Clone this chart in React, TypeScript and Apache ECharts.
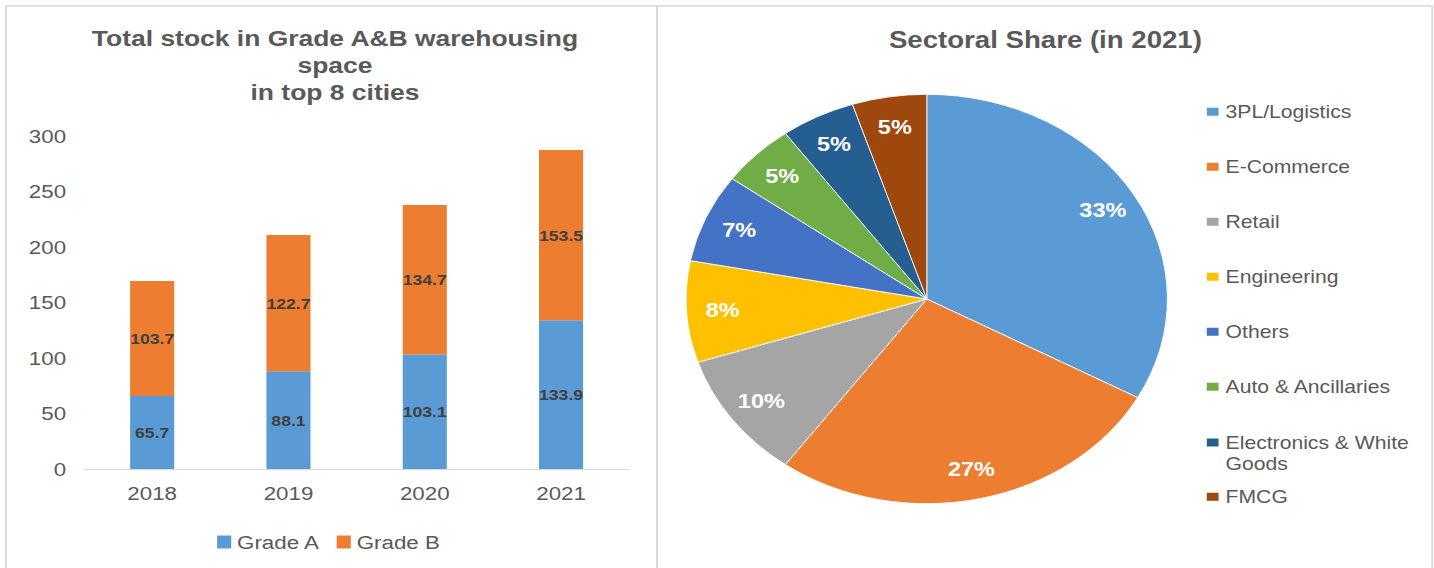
import React, { useEffect, useRef } from "react";
import * as echarts from "echarts";

// ---- data ----
const years = ["2018", "2019", "2020", "2021"];
const gradeA = [65.7, 88.1, 103.1, 133.9];
const gradeB = [103.7, 122.7, 134.7, 153.5];

const sectors = [
  "3PL/Logistics",
  "E-Commerce",
  "Retail",
  "Engineering",
  "Others",
  "Auto & Ancillaries",
  "Electronics & White Goods",
  "FMCG",
];
const shares = [33, 27, 10, 8, 7, 5, 5, 5];
const sectorColors = ["#5B9BD5", "#ED7D31", "#A5A5A5", "#FFC000", "#4472C4", "#70AD47", "#255E91", "#9E480E"];

// ---- layout (chart is drawn in a 1220px wide canvas, then stretched horizontally like the source image) ----
const W = 1220;
const H = 568;
const SX = 1434 / W;
const FONT = "'Liberation Sans', Arial, sans-serif";
const TXT = "#595959";
const PIE_CX = 788.5;
const PIE_CY = 299;
const PIE_R = 204.7;
const LABEL_RATIO = 0.85;

export default function App() {
  const ref = useRef<HTMLDivElement>(null);

  useEffect(() => {
    if (!ref.current) return;
    const chart = echarts.init(ref.current, null, { renderer: "svg", width: W, height: H });
    const k = (LABEL_RATIO * PIE_R) / (PIE_R / 2 + 3);

    const option: any = {
      animation: false,
      textStyle: { fontFamily: FONT },
      graphic: [
        {
          type: "rect",
          shape: { x: 5.1, y: 6, width: 553.9, height: 620 },
          style: { fill: "none", stroke: "#d9d9d9", lineWidth: 1.5 },
          silent: true,
        },
        {
          type: "rect",
          shape: { x: 559, y: 6, width: 659.5, height: 620 },
          style: { fill: "none", stroke: "#d9d9d9", lineWidth: 1.5 },
          silent: true,
        },
      ],
      title: [
        {
          text: "Total stock in Grade A&B warehousing\nspace\nin top 8 cities",
          left: 285,
          top: 24.5,
          padding: 0,
          textAlign: "center",
          textStyle: { fontFamily: FONT, fontSize: 22.5, fontWeight: "bold", color: TXT, lineHeight: 27 },
        },
        {
          text: "Sectoral Share (in 2021)",
          left: 889.4,
          top: 28,
          padding: 0,
          textAlign: "center",
          textStyle: { fontFamily: FONT, fontSize: 23.5, fontWeight: "bold", color: TXT, lineHeight: 24 },
        },
      ],
      legend: [
        {
          data: ["Grade A", "Grade B"],
          orient: "horizontal",
          left: 184.7,
          top: 532,
          padding: 0,
          itemWidth: 12,
          itemHeight: 13,
          itemGap: 14,
          icon: "rect",
          selectedMode: false,
          textStyle: { fontFamily: FONT, fontSize: 19, color: TXT, lineHeight: 20 },
        },
        {
          data: sectors.slice(0, 6),
          orient: "vertical",
          left: 1024.7,
          top: 101.7,
          padding: 0,
          itemWidth: 12,
          itemHeight: 10,
          itemGap: 35,
          icon: "rect",
          selectedMode: false,
          textStyle: { fontFamily: FONT, fontSize: 18, color: TXT, lineHeight: 20 },
        },
        {
          data: [sectors[6]],
          orient: "vertical",
          left: 1024.7,
          top: 411.6,
          padding: 0,
          itemWidth: 12,
          itemHeight: 10,
          icon: "rect",
          selectedMode: false,
          // leading empty line keeps the marker level with the first text line
          formatter: (name: string) => "\n" + name.replace("White ", "White\n"),
          textStyle: { fontFamily: FONT, fontSize: 18, color: TXT, lineHeight: 20.6 },
        },
        {
          data: [sectors[7]],
          orient: "vertical",
          left: 1024.7,
          top: 486.7,
          padding: 0,
          itemWidth: 12,
          itemHeight: 10,
          icon: "rect",
          selectedMode: false,
          textStyle: { fontFamily: FONT, fontSize: 18, color: TXT, lineHeight: 20 },
        },
      ],
      grid: { left: 71.5, right: W - 535.3, top: 136, bottom: H - 469, containLabel: false },
      xAxis: {
        type: "category",
        data: years,
        axisLine: { show: true, lineStyle: { color: "#d9d9d9", width: 1.2 } },
        axisTick: { show: false },
        axisLabel: { fontFamily: FONT, fontSize: 19, color: TXT, margin: 15 },
        splitLine: { show: false },
      },
      yAxis: {
        type: "value",
        min: 0,
        max: 300,
        interval: 50,
        axisLine: { show: false },
        axisTick: { show: false },
        splitLine: { show: false },
        axisLabel: { fontFamily: FONT, fontSize: 19, color: TXT, margin: 15.3 },
      },
      series: [
        {
          name: "Grade A",
          type: "bar",
          stack: "total",
          data: gradeA,
          barWidth: 37.5,
          itemStyle: { color: "#5B9BD5" },
          label: {
            show: true,
            position: "inside",
            color: "#404040",
            fontFamily: FONT,
            fontSize: 15,
            fontWeight: "bold",
          },
        },
        {
          name: "Grade B",
          type: "bar",
          stack: "total",
          data: gradeB,
          barWidth: 37.5,
          itemStyle: { color: "#ED7D31" },
          label: {
            show: true,
            position: "inside",
            color: "#404040",
            fontFamily: FONT,
            fontSize: 15,
            fontWeight: "bold",
          },
        },
        {
          name: "Sectoral Share",
          type: "pie",
          center: [PIE_CX, PIE_CY],
          radius: [0, PIE_R],
          startAngle: 90,
          clockwise: true,
          avoidLabelOverlap: false,
          data: sectors.map((name, i) => ({
            name,
            value: shares[i],
            itemStyle: { color: sectorColors[i] },
          })),
          itemStyle: { borderColor: "#ffffff", borderWidth: 0.8 },
          label: {
            show: true,
            position: "inside",
            formatter: "{c}%",
            color: "#ffffff",
            fontFamily: FONT,
            fontSize: 20,
            fontWeight: "bold",
          },
          labelLine: { show: false },
          labelLayout: (p: any) => {
            const r = p.labelRect;
            const lx = r.x + r.width / 2;
            const ly = r.y + r.height / 2;
            return { x: PIE_CX + (lx - PIE_CX) * k, y: PIE_CY + (ly - PIE_CY) * k };
          },
          emphasis: { disabled: true },
        },
      ],
    };

    chart.setOption(option);
    return () => chart.dispose();
  }, []);

  return (
    <div
      style={{
        position: "fixed",
        left: 0,
        top: 0,
        width: 1434,
        height: H,
        overflow: "hidden",
        background: "#ffffff",
      }}
    >
      <div style={{ width: W, height: H, transform: `scaleX(${SX})`, transformOrigin: "0 0" }}>
        <div ref={ref} style={{ width: W, height: H }} />
      </div>
    </div>
  );
}
